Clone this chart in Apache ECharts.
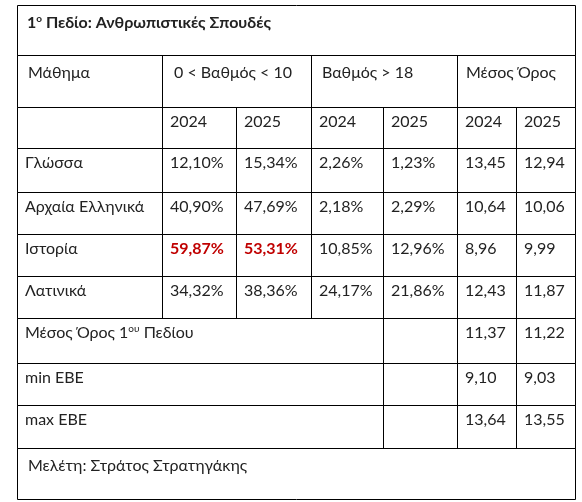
<!DOCTYPE html><html><head><meta charset="utf-8">
<script src="https://cdn.jsdelivr.net/npm/echarts@6/dist/echarts.min.js"></script>
<style>html,body{margin:0;background:#fff}#c{width:582px;height:502px}</style></head><body><div id="c"></div>
<script>
const subjects=["Γλώσσα","Αρχαία Ελληνικά","Ιστορία","Λατινικά"];
const fail2024=["12,10%","40,90%","59,87%","34,32%"];
const fail2025=["15,34%","47,69%","53,31%","38,36%"];
const top2024=["2,26%","2,18%","10,85%","24,17%"];
const top2025=["1,23%","2,29%","12,96%","21,86%"];
const avg2024=["13,45","10,64","8,96","12,43"];
const avg2025=["12,94","10,06","9,99","11,87"];
const summaryLabels=["Μέσος Όρος 1{s|ου} Πεδίου","min ΕΒΕ","max ΕΒΕ"];
const summary2024=["11,37","9,10","13,64"];
const summary2025=["11,22","9,03","13,55"];
const years=["2024","2025"];
const highlight=[2];

const X=[17,162,236,311,383,457,516,575];
const Y=[5,55,107,148,192,234,276,318,363,405,448,499];
const F='Lato, "Open Sans", sans-serif';
const g=[];
function cell(c0,c1,r0,r1,text,opt){
  opt=opt||{};
  g.push({type:'rect',shape:{x:X[c0]+0.5,y:Y[r0]+0.5,width:X[c1]-X[c0],height:Y[r1]-Y[r0]},style:{fill:'none',stroke:'#000',lineWidth:1}});
  if(text!=null&&text!=='') g.push({type:'text',x:X[c0]+(opt.pad||8),y:Y[r0]+(opt.dy||15),style:{text:text,font:(opt.bold?'bold ':'')+'16px '+F,fill:opt.color||'#222',textVerticalAlign:'middle',rich:{s:{fontSize:10,verticalAlign:'top',padding:[0,0,8,0],fontWeight:opt.bold?'bold':'normal',fontFamily:F,fill:opt.color||'#222'}}}});
}
cell(0,7,0,1,"1{s|ο} Πεδίο: Ανθρωπιστικές Σπουδές",{bold:true,dy:18,pad:10});
cell(0,1,1,2,"Μάθημα",{dy:18,pad:11});
cell(1,3,1,2,"0 < Βαθμός < 10",{dy:18,pad:12});
cell(3,5,1,2,"Βαθμός > 18",{dy:18,pad:11});
cell(5,7,1,2,"Μέσος Όρος",{dy:18,pad:9});
cell(0,1,2,3,"");
for(let k=0;k<6;k++) cell(1+k,2+k,2,3,years[k%2]);
subjects.forEach((s,i)=>{
  const r=3+i, red=highlight.includes(i);
  cell(0,1,r,r+1,s);
  cell(1,2,r,r+1,fail2024[i],red?{bold:true,color:'#c00000'}:{});
  cell(2,3,r,r+1,fail2025[i],red?{bold:true,color:'#c00000'}:{});
  cell(3,4,r,r+1,top2024[i]);
  cell(4,5,r,r+1,top2025[i]);
  cell(5,6,r,r+1,avg2024[i]);
  cell(6,7,r,r+1,avg2025[i]);
});
summaryLabels.forEach((s,i)=>{
  const r=7+i;
  cell(0,4,r,r+1,s);
  cell(4,5,r,r+1,"");
  cell(5,6,r,r+1,summary2024[i]);
  cell(6,7,r,r+1,summary2025[i]);
});
cell(0,7,10,11,"Μελέτη: Στράτος Στρατηγάκης",{dy:18,pad:11});
const chart=echarts.init(document.getElementById('c'));
chart.setOption({backgroundColor:'#fff',graphic:{elements:g}});
</script></body></html>
